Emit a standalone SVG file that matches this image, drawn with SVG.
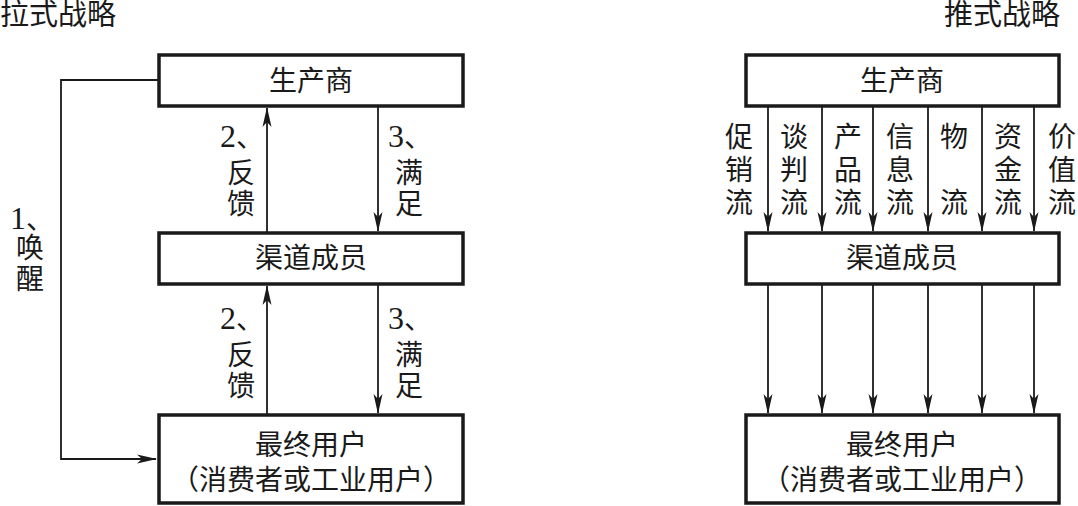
<svg xmlns="http://www.w3.org/2000/svg" width="1078" height="506" viewBox="0 0 1078 506">
<style>
.box{fill:#fff;stroke:#1a1a1a;stroke-width:3.5}
.t{font-family:"Liberation Serif","Noto Sans CJK SC",serif;font-size:28px;fill:#1a1a1a;text-anchor:middle}
.tl{font-family:"Liberation Serif","Noto Sans CJK SC",serif;font-size:29px;fill:#1a1a1a}
.n{font-size:32px}
.ln{fill:none;stroke:#1a1a1a;stroke-width:1.8}
</style>
<defs>
<marker id="ah" markerWidth="20" markerHeight="10" refX="19" refY="5" orient="auto" markerUnits="userSpaceOnUse">
<path d="M0,0.5 L20,5 L0,9.5 L5,5 Z" fill="#1a1a1a"/>
</marker>
</defs>
<rect width="1078" height="506" fill="#fff"/>
<text class="tl" x="0" y="25">拉式战略</text>
<text class="tl" x="944" y="25">推式战略</text>
<g id="connectors">
<path class="ln" d="M158,80 H61 V459 H156" marker-end="url(#ah)"/>
<line class="ln" x1="267" y1="232" x2="267" y2="108" marker-end="url(#ah)"/>
<line class="ln" x1="378" y1="107" x2="378" y2="231" marker-end="url(#ah)"/>
<line class="ln" x1="267" y1="414" x2="267" y2="286" marker-end="url(#ah)"/>
<line class="ln" x1="378" y1="285" x2="378" y2="413" marker-end="url(#ah)"/>
<line class="ln" x1="768" y1="107" x2="768" y2="231" marker-end="url(#ah)"/>
<line class="ln" x1="822" y1="107" x2="822" y2="231" marker-end="url(#ah)"/>
<line class="ln" x1="873" y1="107" x2="873" y2="231" marker-end="url(#ah)"/>
<line class="ln" x1="928" y1="107" x2="928" y2="231" marker-end="url(#ah)"/>
<line class="ln" x1="982" y1="107" x2="982" y2="231" marker-end="url(#ah)"/>
<line class="ln" x1="1034" y1="107" x2="1034" y2="231" marker-end="url(#ah)"/>
<line class="ln" x1="768" y1="285" x2="768" y2="413" marker-end="url(#ah)"/>
<line class="ln" x1="822" y1="285" x2="822" y2="413" marker-end="url(#ah)"/>
<line class="ln" x1="873" y1="285" x2="873" y2="413" marker-end="url(#ah)"/>
<line class="ln" x1="928" y1="285" x2="928" y2="413" marker-end="url(#ah)"/>
<line class="ln" x1="982" y1="285" x2="982" y2="413" marker-end="url(#ah)"/>
<line class="ln" x1="1034" y1="285" x2="1034" y2="413" marker-end="url(#ah)"/>
</g>
<g id="labels-left">
<text class="t" x="32" y="229"><tspan class="n">1</tspan>、</text>
<text class="t" x="30" y="258">唤</text>
<text class="t" x="30" y="289">醒</text>
<text class="t" x="242" y="147"><tspan class="n">2</tspan>、</text>
<text class="t" x="241" y="183">反</text>
<text class="t" x="241" y="214">馈</text>
<text class="t" x="410" y="147"><tspan class="n">3</tspan>、</text>
<text class="t" x="409" y="183">满</text>
<text class="t" x="409" y="214">足</text>
<text class="t" x="242" y="329"><tspan class="n">2</tspan>、</text>
<text class="t" x="241" y="365">反</text>
<text class="t" x="241" y="396">馈</text>
<text class="t" x="410" y="329"><tspan class="n">3</tspan>、</text>
<text class="t" x="409" y="365">满</text>
<text class="t" x="409" y="396">足</text>
</g>
<g id="labels-right">
<text class="t" x="739" y="147">促</text><text class="t" x="739" y="180">销</text><text class="t" x="739" y="213">流</text>
<text class="t" x="794" y="147">谈</text><text class="t" x="794" y="180">判</text><text class="t" x="794" y="213">流</text>
<text class="t" x="848" y="147">产</text><text class="t" x="848" y="180">品</text><text class="t" x="848" y="213">流</text>
<text class="t" x="900" y="147">信</text><text class="t" x="900" y="180">息</text><text class="t" x="900" y="213">流</text>
<text class="t" x="954" y="147">物</text><text class="t" x="954" y="213">流</text>
<text class="t" x="1008" y="147">资</text><text class="t" x="1008" y="180">金</text><text class="t" x="1008" y="213">流</text>
<text class="t" x="1062" y="147">价</text><text class="t" x="1062" y="180">值</text><text class="t" x="1062" y="213">流</text>
</g>
<g id="L-producer"><rect class="box" x="159" y="55" width="304" height="51"/><text class="t" x="311" y="91">生产商</text></g>
<g id="L-channel"><rect class="box" x="159" y="233" width="304" height="51"/><text class="t" x="311" y="268">渠道成员</text></g>
<g id="L-user"><rect class="box" x="159" y="415" width="304" height="88"/><text class="t" x="311" y="455">最终用户</text><text class="t" x="311" y="490">（消费者或工业用户）</text></g>
<g id="R-producer"><rect class="box" x="746" y="55" width="313" height="51"/><text class="t" x="902" y="91">生产商</text></g>
<g id="R-channel"><rect class="box" x="746" y="233" width="313" height="51"/><text class="t" x="902" y="268">渠道成员</text></g>
<g id="R-user"><rect class="box" x="746" y="415" width="313" height="88"/><text class="t" x="902" y="455">最终用户</text><text class="t" x="902" y="490">（消费者或工业用户）</text></g>
</svg>
